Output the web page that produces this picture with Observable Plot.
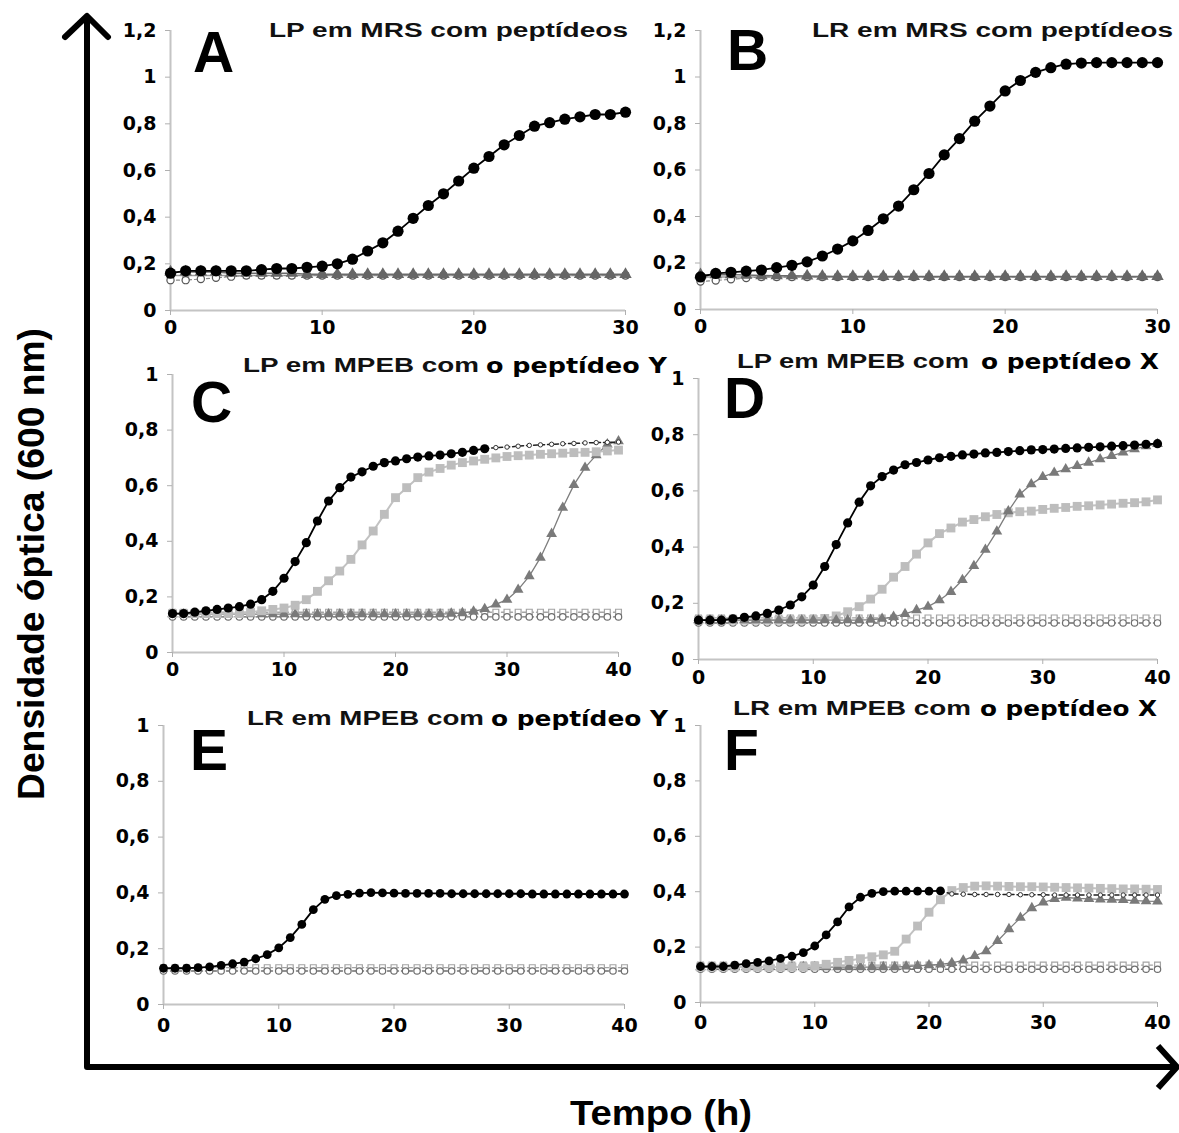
<!DOCTYPE html>
<html><head><meta charset="utf-8">
<script src="https://cdn.jsdelivr.net/npm/d3@7"></script>
<script src="https://cdn.jsdelivr.net/npm/@observablehq/plot@0.6"></script>
<style>
body{margin:0;background:#fff;}
#wrap{position:relative;width:1179px;height:1133px;background:#fff;overflow:hidden;}
</style></head><body><div id="wrap"></div>
<script>
// ---------- DATA ----------
const hours30 = [0,1,2,3,4,5,6,7,8,9,10,11,12,13,14,15,16,17,18,19,20,21,22,23,24,25,26,27,28,29,30];
const hours40 = [0,1,2,3,4,5,6,7,8,9,10,11,12,13,14,15,16,17,18,19,20,21,22,23,24,25,26,27,28,29,30,31,32,33,34,35,36,37,38,39,40];
const xTicks30 = [0,10,20,30];
const xTicks40 = [0,10,20,30,40];
const yTicks12 = [0,0.2,0.4,0.6,0.8,1,1.2];
const yTicks10 = [0,0.2,0.4,0.6,0.8,1];

const panelLetters = ["A","B","C","D","E","F"];
const titleMain = ["LP em MRS com peptídeos","LR em MRS com peptídeos","LP em MPEB com","LP em MPEB com","LR em MPEB com","LR em MPEB com"];
const titleTail = ["","","o peptídeo Y","o peptídeo X","o peptídeo Y","o peptídeo X"];
const axisTitleY = "Densidade óptica (600 nm)";
const axisTitleX = "Tempo (h)";

// Panel A (LP, MRS)
const A_black = [0.16,0.17,0.17,0.17,0.17,0.17,0.175,0.18,0.18,0.185,0.19,0.20,0.22,0.255,0.29,0.34,0.395,0.45,0.50,0.555,0.61,0.66,0.71,0.75,0.79,0.805,0.82,0.83,0.84,0.84,0.85];
const A_tri   = [0.165,0.165,0.165,0.165,0.16,0.16,0.16,0.16,0.16,0.155,0.155,0.155,0.155,0.155,0.155,0.155,0.155,0.155,0.155,0.155,0.155,0.155,0.155,0.155,0.155,0.155,0.155,0.155,0.155,0.155,0.155];
const A_sq    = [0.15,0.15,0.15,0.15,0.15,0.15,0.15,0.15,0.15,0.15,0.15,0.15,0.15,0.15,0.15,0.15,0.15,0.15,0.15,0.15,0.15,0.15,0.15,0.15,0.15,0.15,0.15,0.15,0.15,0.15,0.15];
const A_circ  = [0.13,0.13,0.135,0.14,0.145,0.15,0.15,0.15,0.15,0.15,0.15,0.15,0.15,0.15,0.15,0.15,0.15,0.15,0.15,0.15,0.15,0.15,0.15,0.15,0.15,0.15,0.15,0.15,0.15,0.15,0.15];

// Panel B (LR, MRS)
const B_black = [0.14,0.155,0.16,0.165,0.17,0.18,0.19,0.205,0.23,0.26,0.295,0.34,0.39,0.445,0.515,0.585,0.665,0.735,0.81,0.875,0.94,0.985,1.02,1.04,1.055,1.06,1.062,1.062,1.062,1.062,1.062];
const B_tri   = [0.15,0.15,0.15,0.148,0.146,0.145,0.145,0.144,0.143,0.142,0.142,0.142,0.142,0.142,0.142,0.142,0.142,0.142,0.142,0.142,0.142,0.142,0.142,0.142,0.142,0.142,0.142,0.142,0.142,0.142,0.142];
const B_sq    = [0.14,0.14,0.14,0.14,0.14,0.14,0.14,0.14,0.14,0.14,0.14,0.14,0.14,0.14,0.14,0.14,0.14,0.14,0.14,0.14,0.14,0.14,0.14,0.14,0.14,0.14,0.14,0.14,0.14,0.14,0.14];
const B_circ  = [0.12,0.125,0.13,0.135,0.14,0.14,0.14,0.14,0.14,0.14,0.14,0.14,0.14,0.14,0.14,0.14,0.14,0.14,0.14,0.14,0.14,0.14,0.14,0.14,0.14,0.14,0.14,0.14,0.14,0.14,0.14];

// Panel C (LP, MPEB, peptide Y)
const C_black = [0.14,0.14,0.145,0.15,0.155,0.16,0.165,0.174,0.19,0.22,0.267,0.327,0.395,0.473,0.545,0.593,0.631,0.65,0.67,0.683,0.689,0.697,0.703,0.707,0.71,0.715,0.72,0.727,0.733,0.737,0.739,0.742,0.745,0.747,0.749,0.751,0.752,0.754,0.755,0.756,0.757];
const C_sq    = [0.14,0.14,0.14,0.14,0.14,0.14,0.14,0.145,0.15,0.155,0.16,0.17,0.19,0.22,0.258,0.293,0.335,0.387,0.437,0.497,0.557,0.593,0.629,0.649,0.662,0.674,0.683,0.689,0.695,0.70,0.705,0.708,0.71,0.713,0.715,0.717,0.719,0.72,0.722,0.725,0.728];
const C_tri   = [0.138,0.138,0.138,0.138,0.138,0.138,0.138,0.138,0.138,0.138,0.138,0.138,0.138,0.138,0.138,0.138,0.138,0.138,0.138,0.138,0.138,0.138,0.138,0.138,0.138,0.14,0.142,0.148,0.157,0.173,0.19,0.226,0.275,0.341,0.427,0.521,0.603,0.665,0.71,0.749,0.76];
const C_flatA = [0.128,0.128,0.128,0.128,0.128,0.128,0.128,0.128,0.128,0.128,0.128,0.128,0.128,0.128,0.128,0.128,0.128,0.128,0.128,0.128,0.128,0.128,0.128,0.128,0.128,0.128,0.128,0.128,0.128,0.128,0.128,0.128,0.128,0.128,0.128,0.128,0.128,0.128,0.128,0.128,0.128];
const C_flatB = [0.145,0.145,0.145,0.145,0.145,0.145,0.145,0.145,0.145,0.145,0.145,0.145,0.145,0.145,0.145,0.145,0.145,0.145,0.145,0.145,0.145,0.145,0.145,0.145,0.145,0.145,0.145,0.145,0.145,0.145,0.145,0.145,0.145,0.145,0.145,0.145,0.145,0.145,0.145,0.145,0.145];

// Panel D (LP, MPEB, peptide X)
const D_black = [0.14,0.14,0.14,0.145,0.15,0.155,0.164,0.176,0.194,0.223,0.265,0.331,0.409,0.486,0.56,0.618,0.651,0.674,0.693,0.701,0.71,0.718,0.723,0.728,0.731,0.735,0.737,0.74,0.743,0.746,0.747,0.749,0.751,0.753,0.755,0.757,0.759,0.761,0.763,0.766,0.768];
const D_sq    = [0.14,0.14,0.14,0.14,0.14,0.14,0.14,0.14,0.14,0.14,0.142,0.146,0.155,0.17,0.188,0.215,0.25,0.293,0.331,0.375,0.415,0.448,0.468,0.489,0.498,0.508,0.516,0.522,0.526,0.528,0.534,0.538,0.541,0.545,0.547,0.55,0.553,0.556,0.558,0.561,0.568];
const D_tri   = [0.14,0.14,0.14,0.14,0.14,0.14,0.14,0.14,0.14,0.14,0.14,0.14,0.14,0.14,0.14,0.142,0.145,0.152,0.162,0.176,0.188,0.211,0.241,0.283,0.333,0.391,0.456,0.528,0.588,0.624,0.65,0.665,0.677,0.689,0.701,0.713,0.725,0.737,0.749,0.759,0.767];
const D_flatA = [0.13,0.13,0.13,0.13,0.13,0.13,0.13,0.13,0.13,0.13,0.13,0.13,0.13,0.13,0.13,0.13,0.13,0.13,0.13,0.13,0.13,0.13,0.13,0.13,0.13,0.13,0.13,0.13,0.13,0.13,0.13,0.13,0.13,0.13,0.13,0.13,0.13,0.13,0.13,0.13,0.13];
const D_flatB = [0.148,0.148,0.148,0.148,0.148,0.148,0.148,0.148,0.148,0.148,0.148,0.148,0.148,0.148,0.148,0.148,0.148,0.148,0.148,0.148,0.148,0.148,0.148,0.148,0.148,0.148,0.148,0.148,0.148,0.148,0.148,0.148,0.148,0.148,0.148,0.148,0.148,0.148,0.148,0.148,0.148];

// Panel E (LR, MPEB, peptide Y)
const E_black = [0.13,0.13,0.13,0.132,0.135,0.14,0.146,0.152,0.164,0.179,0.203,0.24,0.287,0.34,0.377,0.39,0.395,0.399,0.401,0.40,0.399,0.398,0.398,0.398,0.398,0.397,0.397,0.397,0.397,0.397,0.397,0.397,0.396,0.396,0.396,0.396,0.396,0.396,0.396,0.396,0.396];
const E_flatA = [0.12,0.12,0.12,0.12,0.12,0.12,0.12,0.12,0.12,0.12,0.12,0.12,0.12,0.12,0.12,0.12,0.12,0.12,0.12,0.12,0.12,0.12,0.12,0.12,0.12,0.12,0.12,0.12,0.12,0.12,0.12,0.12,0.12,0.12,0.12,0.12,0.12,0.12,0.12,0.12,0.12];
const E_flatB = [0.132,0.132,0.132,0.132,0.132,0.132,0.132,0.132,0.132,0.132,0.132,0.132,0.132,0.132,0.132,0.132,0.132,0.132,0.132,0.132,0.132,0.132,0.132,0.132,0.132,0.132,0.132,0.132,0.132,0.132,0.132,0.132,0.132,0.132,0.132,0.132,0.132,0.132,0.132,0.132,0.132];

// Panel F (LR, MPEB, peptide X)
const F_black = [0.13,0.13,0.13,0.135,0.14,0.145,0.15,0.159,0.167,0.18,0.204,0.244,0.291,0.345,0.38,0.394,0.40,0.402,0.402,0.402,0.402,0.403,0.392,0.391,0.39,0.39,0.39,0.39,0.389,0.389,0.389,0.388,0.388,0.388,0.388,0.388,0.388,0.388,0.388,0.388,0.388];
const F_sq    = [0.128,0.128,0.128,0.128,0.128,0.128,0.128,0.128,0.128,0.128,0.132,0.138,0.145,0.152,0.158,0.165,0.172,0.185,0.229,0.276,0.326,0.371,0.404,0.415,0.42,0.421,0.42,0.419,0.418,0.418,0.417,0.416,0.415,0.414,0.413,0.412,0.411,0.41,0.41,0.409,0.408];
const F_tri   = [0.128,0.128,0.128,0.128,0.128,0.128,0.128,0.128,0.128,0.128,0.128,0.128,0.128,0.128,0.128,0.128,0.128,0.128,0.13,0.132,0.135,0.138,0.143,0.152,0.168,0.185,0.222,0.265,0.306,0.341,0.361,0.374,0.379,0.376,0.374,0.372,0.371,0.37,0.368,0.366,0.365];
const F_flatA = [0.12,0.12,0.12,0.12,0.12,0.12,0.12,0.12,0.12,0.12,0.12,0.12,0.12,0.12,0.12,0.12,0.12,0.12,0.12,0.12,0.12,0.12,0.12,0.12,0.12,0.12,0.12,0.12,0.12,0.12,0.12,0.12,0.12,0.12,0.12,0.12,0.12,0.12,0.12,0.12,0.12];
const F_flatB = [0.135,0.135,0.135,0.135,0.135,0.135,0.135,0.135,0.135,0.135,0.135,0.135,0.135,0.135,0.135,0.135,0.135,0.135,0.135,0.135,0.135,0.135,0.135,0.135,0.135,0.135,0.135,0.135,0.135,0.135,0.135,0.135,0.135,0.135,0.135,0.135,0.135,0.135,0.135,0.135,0.135];

// ---------- LAYOUT / STYLE ----------
const styles = {
  black:   {stroke:"#000", sw:1.8, symbol:"circle", fill:"#000", dotStroke:"none"},
  sq:      {stroke:"#c2c2c2", sw:2, symbol:"square", fill:"#bdbdbd", dotStroke:"none", r:5},
  tri:     {stroke:"#7d7d7d", sw:1.3, symbol:"triangle", fill:"#7a7a7a", dotStroke:"none", r:4},
  triFlat: {stroke:"#6a6a6a", sw:1.5, symbol:"triangle", fill:"#666", dotStroke:"none", r:4.6},
  sqFlat:  {stroke:"#9a9a9a", sw:1.5, symbol:"square", fill:"#a0a0a0", dotStroke:"none", r:4},
  flatA:   {stroke:"#6e6e6e", sw:1.4, dash:"4,3", symbol:"circle", fill:"#fff", dotStroke:"#6e6e6e", r:3.2},
  flatB:   {stroke:"#a3a3a3", sw:1.4, dash:"4,3", symbol:"square", fill:"#fff", dotStroke:"#a3a3a3", r:3.3},
  circ:    {stroke:"#888", sw:1.2, dash:"3,3", symbol:"circle", fill:"#fff", dotStroke:"#555", r:3.6}
};

const panels = [
  {frame:[170,625,30,310], xmax:30, ymax:1.2, hours:hours30, xt:xTicks30, yt:yTicks12, blackR:5.6, pad:5,
   series:[[A_sq,"sqFlat"],[A_circ,"circ"],[A_tri,"triFlat"],[A_black,"black"]]},
  {frame:[700,1157,30,309], xmax:30, ymax:1.2, hours:hours30, xt:xTicks30, yt:yTicks12, blackR:5.6, pad:5,
   series:[[B_sq,"sqFlat"],[B_circ,"circ"],[B_tri,"triFlat"],[B_black,"black"]]},
  {frame:[172,618,374,652], xmax:40, ymax:1, hours:hours40, xt:xTicks40, yt:yTicks10, blackR:4.6, pad:5, blackDotsUntil:28,
   series:[[C_flatB,"flatB"],[C_flatA,"flatA"],[C_tri,"tri"],[C_sq,"sq"],[C_black,"black"]]},
  {frame:[698,1157,378,659], xmax:40, ymax:1, hours:hours40, xt:xTicks40, yt:yTicks10, blackR:4.6, pad:6,
   series:[[D_flatB,"flatB"],[D_flatA,"flatA"],[D_sq,"sq"],[D_tri,"tri"],[D_black,"black"]]},
  {frame:[163,624,725,1004], xmax:40, ymax:1, hours:hours40, xt:xTicks40, yt:yTicks10, blackR:4.4, pad:9,
   series:[[E_flatB,"flatB"],[E_flatA,"flatA"],[E_black,"black"]]},
  {frame:[700,1157,725,1002], xmax:40, ymax:1, hours:hours40, xt:xTicks40, yt:yTicks10, blackR:4.4, pad:8, blackDotsUntil:21,
   series:[[F_flatB,"flatB"],[F_flatA,"flatA"],[F_tri,"tri"],[F_sq,"sq"],[F_black,"black"]]}
];

const fmt = d => String(d).replace(".", ",");
const wrap = document.getElementById("wrap");

panels.forEach(p => {
  const [x0, x1, yTop, yBottom] = p.frame;
  const mL = 70, mR = 20, mT = 20, mB = 45;
  const marks = [
    Plot.ruleX([0], {stroke:"#c4c4c4", strokeWidth:2}),
    Plot.ruleY([0], {stroke:"#c4c4c4", strokeWidth:2}),
    Plot.axisX({ticks:p.xt, tickSize:5, tickPadding:p.pad, tickFormat:d=>String(d), stroke:"#b0b0b0", fill:"#000", label:null}),
    Plot.axisY({ticks:p.yt, tickSize:5, tickPadding:9, tickFormat:fmt, stroke:"#b0b0b0", fill:"#000", label:null})
  ];
  p.series.forEach(([vals, kind]) => {
    const s = styles[kind];
    const data = p.hours.map((t, i) => ({t, v: vals[i]}));
    const cut = p.blackDotsUntil;
    if (kind === "black" && cut !== undefined) {
      const head = data.filter(d => d.t <= cut), tail = data.filter(d => d.t >= cut);
      marks.push(Plot.line(head, {x:"t", y:"v", stroke:s.stroke, strokeWidth:s.sw}));
      marks.push(Plot.line(tail, {x:"t", y:"v", stroke:"#222", strokeWidth:1.5, strokeDasharray:"4,3"}));
      marks.push(Plot.dot(tail.slice(1), {x:"t", y:"v", r:2.2, fill:"#fff", stroke:"#333", strokeWidth:1}));
      marks.push(Plot.dot(head, {x:"t", y:"v", r:p.blackR, fill:s.fill}));
    } else {
      marks.push(Plot.line(data, {x:"t", y:"v", stroke:s.stroke, strokeWidth:s.sw, strokeDasharray:s.dash || null}));
      marks.push(Plot.dot(data, {x:"t", y:"v", symbol:s.symbol, r: kind === "black" ? p.blackR : s.r,
        fill:s.fill, stroke:s.dotStroke, strokeWidth:1.2}));
    }
  });
  const chart = Plot.plot({
    width: x1 - x0 + mL + mR,
    height: yBottom - yTop + mT + mB,
    marginLeft: mL, marginRight: mR, marginTop: mT, marginBottom: mB,
    x: {domain:[0, p.xmax]},
    y: {domain:[0, p.ymax]},
    style: {background:"transparent", overflow:"visible", fontFamily:"'DejaVu Sans', sans-serif",
            fontWeight:"bold", fontSize:"19px", color:"#000"},
    marks
  });
  chart.style.position = "absolute";
  chart.style.left = (x0 - mL) + "px";
  chart.style.top = (yTop - mT) + "px";
  chart.style.maxWidth = "none";
  wrap.appendChild(chart);
});

// ---------- OVERLAY: arrows, axis titles, panel titles, letters ----------
const ov = d3.select(wrap).append("svg")
  .attr("width", 1179).attr("height", 1133)
  .style("position","absolute").style("left","0px").style("top","0px")
  .style("pointer-events","none");

const arrowStyle = g => g.attr("fill","none").attr("stroke","#000").attr("stroke-width",6)
  .attr("stroke-linecap","round").attr("stroke-linejoin","round");
ov.append("path").attr("d","M87,1067 L87,17 M65,37 L87,16 L108,37").call(arrowStyle);
ov.append("path").attr("d","M87,1067 L1175,1067 M1158,1046 L1177,1067 L1158,1088").call(arrowStyle).attr("stroke-linecap","butt");

ov.append("text").text(axisTitleX)
  .attr("x",570).attr("y",1125).attr("textLength",182).attr("lengthAdjust","spacingAndGlyphs")
  .attr("font-family","'Liberation Sans', Arial, sans-serif").attr("font-weight","bold").attr("font-size",35);
ov.append("text").text(axisTitleY)
  .attr("transform","translate(44,800) rotate(-90)").attr("x",0).attr("y",0)
  .attr("textLength",472).attr("lengthAdjust","spacingAndGlyphs")
  .attr("font-family","'Liberation Sans', Arial, sans-serif").attr("font-weight","bold").attr("font-size",36);

const titlePos = [
  {x:269, y:37, len:359},
  {x:812, y:37, len:361},
  {x:243, y:372, len:236, x2:486, len2:181},
  {x:737, y:368, len:232, x2:981, len2:178},
  {x:247, y:725, len:237, x2:491, len2:177},
  {x:733, y:715, len:238, x2:980, len2:177}
];
const letterPos = [[193,72],[727,70],[191,422],[724,418],[190,770],[724,770]];

titlePos.forEach((tp, i) => {
  ov.append("text").text(titleMain[i]).attr("x",tp.x).attr("y",tp.y)
    .attr("textLength",tp.len).attr("lengthAdjust","spacingAndGlyphs")
    .attr("font-family","'Liberation Sans', Arial, sans-serif").attr("font-weight","bold").attr("font-size",20)
    .attr("fill","#111");
  if (titleTail[i]) {
    ov.append("text").text(titleTail[i]).attr("x",tp.x2).attr("y",tp.y+1)
      .attr("textLength",tp.len2).attr("lengthAdjust","spacingAndGlyphs")
      .attr("font-family","'DejaVu Sans', sans-serif").attr("font-weight","bold").attr("font-size",22)
      .attr("fill","#000");
  }
  ov.append("text").text(panelLetters[i]).attr("x",letterPos[i][0]).attr("y",letterPos[i][1])
    .attr("font-family","'Liberation Sans', Arial, sans-serif").attr("font-weight","bold").attr("font-size",57)
    .attr("fill","#000");
});
</script></body></html>
